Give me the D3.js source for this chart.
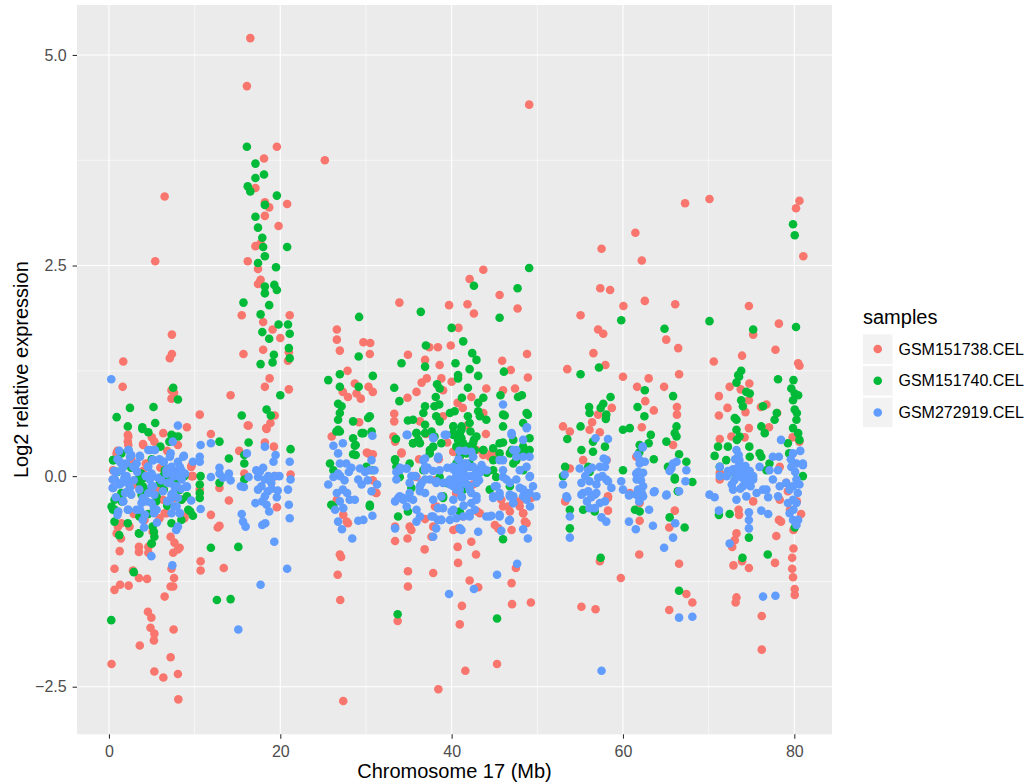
<!DOCTYPE html>
<html lang="en">
<head>
    <meta charset="UTF-8">
    <title>Log2 relative expression along chromosome 17</title>
    <script src="https://d3js.org/d3.v7.min.js"></script>
    <style>
        body { margin: 0; background: #fff; }
        svg text { font-family: "Liberation Sans", Arial, Helvetica, sans-serif; }
    </style>
</head>
<body>
<svg id="chart" width="1031" height="784"></svg>

<script>
    // sample names (legend order)
    const samples = ["GSM151738.CEL", "GSM151740.CEL", "GSM272919.CEL"];
    const sampleColors = ["#F8766D", "#00BA38", "#619CFF"];

    const xTicks = [0, 20, 40, 60, 80];
    const yTicks = [-2.5, 0, 2.5, 5];
    const xMinor = [10, 30, 50, 70];
    const yMinor = [-1.25, 1.25, 3.75];

    // [position in Mb, log2 relative expression]
    const gsm151738 = [
        [0.3,-2.23],[1.6,1.06],[1.67,1.36],[0.9,-0.68],[1.4,-0.74],[1.25,-0.89],[0.65,-1.10],[0.65,-1.35],[1.3,-1.29],[2.3,-1.30],
        [2.8,-1.12],[3.5,-0.84],[3.5,-0.90],[3.5,-1.21],[4.45,-1.22],[4.6,-0.84],[4.6,-0.91],[3.6,-2.01],[4.55,-1.61],[4.95,-1.68],
        [4.85,-1.80],[5.3,-1.87],[5.25,-1.95],[5.3,-2.32],[6.35,-2.39],[5.4,2.55],[6.5,3.32],[6.5,-1.43],[7.35,1.68],[7.35,1.45],
        [7.1,1.40],[7.3,1.02],[7.6,0.99],[7.3,0.92],[7.2,-0.72],[7.65,-0.79],[8.25,-0.85],[8.05,-0.87],[7.5,-0.91],[7.3,-1.10],
        [7.6,-1.21],[7.2,-1.31],[7.5,-1.31],[7.55,-1.82],[7.2,-2.15],[8.05,-2.35],[8.1,-2.65],[9.1,0.58],[2.2,0.49],[2.2,0.41],
        [3.97,0.38],[5.0,0.46],[5.3,0.41],[0.47,0.07],[0.47,-0.04],[1.8,-0.20],[1.05,-0.60],[2.4,-0.60],[1.45,-0.56],[3.95,0.06],
        [5.1,-0.16],[5.7,-0.14],[6.3,-0.28],[6.5,-0.44],[7.65,-0.26],[8.05,0.37],[8.8,-0.48],[8.45,-0.28],[4.15,-0.52],[5.1,-0.66],
        [9.6,0.11],[9.8,0.0],[10.6,-0.16],[8.8,-0.50],[2.6,0.2],[3.0,-0.1],[6.0,0.1],[6.8,0.3],[1.0,0.3],[4.3,0.15],
        [2.9,-0.45],[5.9,-0.5],[2.26,0.47],[2.26,0.37],[4.0,0.37],[0.89,0.27],[6.73,-0.44],[9.65,0.13],[9.65,0.0],[6.34,0.51],
        [10.6,0.73],[11.9,0.50],[11.9,-0.46],[12.9,-0.14],[14.0,-0.29],[12.7,-0.61],[12.9,-0.59],[10.7,-1.01],[10.7,-1.12],[13.4,-1.09],
        [14.2,0.96],
        [16.5,5.20],[16.1,4.63],[19.6,3.91],[18.1,3.77],[17.1,3.42],[18.2,3.25],[18.7,3.19],[20.8,3.23],[18.2,3.09],[19.8,2.97],
        [17.1,2.73],[17.7,2.76],[16.2,2.55],[17.4,2.46],[17.7,2.33],[17.4,2.28],[15.5,1.91],[21.1,1.91],[18.0,1.83],[19.1,1.74],
        [20.0,1.64],[18.0,1.50],[15.7,1.45],[21.0,1.47],[20.9,1.37],[18.75,1.16],[18.2,1.06],[21.0,1.03],[16.2,0.60],[18.35,0.57],
        [19.35,0.72],[18.85,0.63],[16.3,0.60],[18.4,0.56],[18.2,0.40],[19.25,0.35],[15.2,0.30],[15.8,0.03],[21.2,0.02],[19.4,0.0],
        [19.6,-0.37],
        [25.2,3.75],[43.7,2.45],[42.1,2.34],[45.6,2.15],[47.7,1.99],[33.9,2.06],[39.7,2.03],[41.85,2.04],[42.6,1.93],[40.8,1.76],
        [26.6,1.74],[26.6,1.62],[26.95,1.49],[29.7,1.59],[30.5,1.58],[30.45,1.45],[39.9,1.55],[37.4,1.53],[38.4,1.53],[34.9,1.44],
        [36.9,1.38],[38.6,1.32],[48.8,1.45],[45.9,1.37],[46.9,1.26],[48.9,1.17],[27.85,1.25],[28.7,1.10],[28.9,0.98],[37.1,1.16],
        [36.5,1.11],[38.8,1.16],[40.0,1.12],[30.3,1.06],[30.8,1.00],[27.3,1.00],[27.9,0.94],[29.4,0.92],[34.85,0.93],[35.9,1.00],
        [39.0,1.02],[42.3,0.94],[44.05,1.04],[46.0,1.02],[47.4,1.04],[40.7,0.87],[41.3,0.81],[33.3,0.74],[33.3,0.65],[39.0,0.71],
        [43.7,0.75],[29.2,0.64],[26.0,0.47],[33.2,0.47],[33.4,0.41],[34.15,0.28],[30.1,0.28],[30.8,0.26],[40.2,0.29],[41.15,0.31],
        [42.9,0.31],[43.7,0.25],[44.65,0.27],[45.8,-0.28],[46.0,-0.36],[35.9,-0.01],[38.0,-0.05],[30.8,-0.05],[31.2,-0.20],[26.6,-0.28],
        [49.3,-0.26],[47.95,-0.36],[49.05,4.41],
        [26.95,-0.93],[27.1,-0.96],[26.7,-1.17],[27.0,-1.47],[27.35,-2.67],[33.7,-1.72],[34.9,-1.13],[34.9,-1.31],[37.85,-1.15],[36.85,-0.87],
        [38.45,-2.53],[40.7,-0.84],[40.75,-1.03],[42.3,-0.78],[42.85,-0.93],[42.1,-1.24],[43.1,-1.32],[41.2,-1.54],[40.95,-1.76],[41.6,-2.31],
        [45.3,-2.23],[47.05,-1.52],[47.0,-1.27],[47.5,-1.09],[49.25,-1.50],[33.4,-0.77],[34.85,-0.74],[35.3,-0.64],[33.4,-0.60],[36.9,-0.51],
        [37.65,-0.72],[40.2,-0.64],[40.75,-0.62],[45.05,-0.58],[47.0,-0.64],[48.35,-0.44],[48.55,-0.54],[46.6,-0.36],[47.95,-0.30],[27.35,-0.46],
        [27.75,-0.54],[27.9,-0.56],[30.85,-0.18],[31.2,-0.20],[30.25,0.27],[30.65,0.25],[34.15,0.27],[35.5,0.0],[38.25,-0.36],[41.35,-0.48],
        [43.0,-0.42],[44.85,0.25],[37.0,0.5],[39.5,0.4],[41.8,0.6],[44.0,0.5],[38.5,0.2],[40.5,-0.2],[42.5,-0.1],[36.2,0.2],
        [36.3,0.65],[44.45,0.23],[40.2,0.29],[38.05,-0.36],[46.8,-0.42],[48.35,-0.44],[48.75,-0.56],[35.1,-0.60],[43.3,-0.44],[37.85,-0.60],
        [45.45,-0.62],
        [61.45,2.89],[62.2,2.56],[57.5,2.70],[57.35,2.23],[58.5,2.21],[60.05,2.02],[62.55,2.08],[66.1,2.04],[55.05,1.91],[57.1,1.74],
        [57.7,1.69],[65.05,1.62],[66.45,1.52],[56.55,1.46],[57.95,1.32],[53.5,1.27],[66.55,1.21],[60.0,1.18],[63.0,1.16],[61.65,1.06],
        [64.8,1.06],[62.6,0.89],[63.6,0.78],[66.3,0.82],[66.3,0.73],[58.7,0.81],[57.1,0.73],[56.4,0.64],[53.0,0.59],[53.8,0.53],
        [56.1,0.55],[57.3,0.52],[62.2,0.58],[55.35,0.19],[53.8,0.09],[58.1,0.19],[65.85,0.37],[61.55,0.23],[58.25,-0.24],[60.8,-0.20],
        [67.25,3.24],[53.25,-0.30],[58.25,-0.26],[58.25,-0.41],[57.3,-1.01],[59.75,-1.21],[55.15,-1.55],[56.8,-1.58],[61.9,-0.93],[61.95,-0.53],
        [66.05,-0.41],[65.4,-0.61],[66.55,-1.04],[67.4,-1.40],[68.1,-1.50],[65.4,-1.59],[61.95,-0.32],
        [70.1,3.29],[80.6,3.27],[80.2,3.18],[81.05,2.61],[74.7,2.02],[78.2,1.81],[75.2,1.68],[77.8,1.50],[73.9,1.43],[70.6,1.36],
        [80.45,1.34],[80.6,1.31],[71.2,0.95],[72.45,1.06],[73.75,1.03],[74.75,1.10],[72.2,0.81],[71.2,0.72],[74.3,0.76],[74.7,0.90],
        [76.75,0.85],[76.1,0.82],[77.05,0.58],[78.0,0.75],[71.3,0.44],[72.65,0.47],[74.2,0.46],[74.7,0.57],[79.8,0.46],[80.6,0.41],
        [78.3,0.11],[79.05,-0.08],[73.25,-0.68],[73.05,-0.76],[72.75,-0.84],[72.9,-1.06],[73.9,-1.01],[74.7,-1.09],[73.25,-1.44],[73.15,-1.50],
        [76.2,-1.66],[76.2,-2.06],[77.9,-0.71],[77.75,-1.03],[78.2,-0.52],[78.45,-0.54],[79.9,-0.64],[79.9,-0.86],[79.75,-0.97],[79.75,-1.10],
        [79.85,-1.20],[80.05,-1.34],[80.05,-1.41],[73.5,-0.40],[73.55,-0.46],[75.2,-0.30],[78.3,-0.28],[79.25,-0.18],[71.3,-0.04],[71.3,0.04],
        [80.3,-0.3],[80.8,-0.45],[79.5,-0.4]
    ];

    const gsm151740 = [
        [0.27,-1.71],[0.9,0.70],[2.45,0.81],[5.2,0.82],[7.5,1.05],[8.05,0.91],[5.4,0.63],[2.2,0.59],[3.9,0.58],[3.9,0.56],
        [4.6,0.52],[2.9,-1.14],[3.5,-0.68],[5.0,-0.80],[5.3,-0.72],[5.1,-0.60],[0.47,0.19],[1.45,0.27],[0.65,-0.28],[0.47,-0.40],
        [0.65,-0.54],[1.45,-0.20],[1.5,-0.30],[2.2,-0.56],[3.55,-0.02],[3.55,-0.48],[3.75,0.03],[3.95,-0.12],[5.25,-0.66],[4.95,-0.80],
        [6.3,0.0],[6.4,-0.16],[7.1,-0.04],[7.3,-0.56],[8.25,-0.16],[8.8,0.0],[9.1,-0.24],[8.45,-0.52],[7.65,0.05],[8.05,-0.04],
        [3.55,-0.68],[7.3,0.49],[7.65,0.47],[7.05,0.41],[4.15,-0.02],[4.15,-0.16],[10.7,0.0],[10.6,-0.10],[10.6,-0.20],[10.6,-0.26],
        [9.5,-0.42],[9.8,-0.47],[1.0,0.05],[2.6,0.1],[5.0,0.2],[6.0,0.35],[2.0,-0.05],[5.5,-0.3],[6.8,-0.35],[1.2,-0.7],
        [4.6,-0.45],[0.5,0.19],[0.31,-0.36],[0.7,-0.40],[1.48,-0.24],[3.62,0.0],[3.62,-0.08],[3.81,-0.22],[5.56,-0.24],[5.95,-0.08],
        [6.53,0.07],[8.09,0.47],[8.28,-0.16],[8.48,-0.28],[9.26,-0.40],
        [12.9,0.41],[14.0,0.21],[12.9,-0.08],[11.9,-0.85],[15.1,-0.84],[12.6,-1.47],[14.2,-1.46],[15.5,0.72],
        [16.1,3.91],[17.1,3.71],[18.1,3.58],[17.1,3.54],[16.2,3.44],[16.5,3.38],[19.6,3.33],[18.2,3.22],[17.1,3.08],[17.4,2.95],
        [17.9,2.83],[18.0,2.72],[20.8,2.72],[18.2,2.61],[17.4,2.53],[19.5,2.48],[18.2,2.25],[18.2,2.17],[19.3,2.27],[19.6,2.21],
        [15.7,2.06],[18.7,2.03],[17.7,1.92],[19.8,1.80],[20.9,1.80],[17.9,1.71],[21.1,1.69],[18.7,1.63],[21.0,1.52],[19.25,1.44],
        [21.1,1.40],[19.1,1.35],[17.7,1.33],[20.0,0.96],[18.4,0.79],[18.9,0.72],[16.3,0.40],[21.2,0.32],[15.8,0.25],[15.8,0.15],
        [15.8,-0.04],
        [49.05,2.47],[42.6,2.26],[47.7,2.23],[45.6,1.88],[36.4,1.95],[29.2,1.89],[40.0,1.76],[41.35,1.60],[37.0,1.55],[29.15,1.42],
        [34.15,1.34],[36.9,1.30],[42.4,1.46],[42.9,1.38],[40.45,1.34],[42.1,1.27],[46.1,1.24],[25.6,1.14],[26.95,1.21],[30.8,1.19],
        [40.75,1.20],[40.75,1.16],[43.1,1.19],[26.95,1.06],[29.15,1.06],[38.3,1.09],[38.6,1.04],[41.9,1.05],[33.3,1.05],[33.9,0.89],
        [38.15,0.94],[41.2,0.93],[43.7,0.93],[43.1,0.87],[45.7,0.96],[46.2,0.72],[47.75,0.94],[48.2,0.96],[26.75,0.86],[27.15,0.83],
        [26.95,0.75],[26.75,0.67],[26.55,0.53],[26.95,0.53],[30.45,0.71],[30.25,0.69],[28.5,0.65],[29.5,0.51],[29.7,0.51],[30.65,0.53],
        [34.9,0.66],[35.5,0.67],[36.7,0.75],[36.9,0.83],[36.9,0.61],[38.0,0.83],[38.55,0.85],[38.6,0.65],[38.2,0.71],[39.8,0.75],
        [40.35,0.77],[40.2,0.59],[41.15,0.59],[40.95,0.51],[41.9,0.71],[42.1,0.63],[43.1,0.77],[43.3,0.71],[44.05,0.67],[46.0,0.73],
        [46.0,0.59],[48.75,0.75],[48.9,0.73],[48.35,0.63],[49.1,0.45],[47.2,0.43],[47.0,0.31],[48.35,0.35],[46.0,0.40],[44.85,0.33],
        [43.7,0.31],[42.2,0.53],[42.6,0.43],[42.1,0.35],[42.7,0.31],[40.2,0.49],[41.15,0.45],[40.55,0.35],[41.35,0.39],[37.65,0.53],
        [38.0,0.47],[38.8,0.39],[37.45,0.31],[35.9,0.51],[36.1,0.43],[35.5,0.39],[33.5,0.44],[33.4,0.20],[28.5,0.45],[28.8,0.37],
        [28.5,0.26],[26.75,0.55],[25.8,0.15],[26.2,0.07],[30.05,0.11],[30.8,0.07],[33.55,0.11],[33.95,-0.01],[35.1,0.15],[36.7,0.07],
        [38.6,-0.01],[39.4,-0.08],[40.55,0.15],[41.35,0.07],[42.1,0.15],[42.9,0.07],[44.85,0.07],[45.2,-0.01],[47.2,0.15],[48.35,0.07],
        [48.75,0.27],[49.1,0.31],[39.0,-0.24],[41.35,-0.16],[30.45,-0.36],[26.2,-0.36],
        [33.7,-1.64],[45.3,-1.69],[46.0,-0.75],[25.95,-0.34],[30.45,-0.34],[33.75,-0.48],[34.9,-0.42],[35.3,-0.14],[33.4,0.19],[39.0,-0.26],
        [40.95,-0.42],[28.8,0.25],[28.7,0.36],
        [35.9,0.51],[36.9,0.51],[35.5,0.39],[36.3,0.39],[37.85,0.35],[37.45,0.27],[40.2,0.59],[41.15,0.55],[40.2,0.51],[40.75,0.43],
        [42.9,0.47],[42.5,0.39],[41.75,0.27],[40.95,0.23],[43.7,0.31],[44.85,0.19],[45.6,0.39],[46.8,0.27],[47.55,0.19],[45.6,0.27],
        [48.35,0.27],[44.1,0.04],[44.45,-0.16],[46.8,-0.12],
        [59.8,1.85],[64.85,1.75],[55.05,1.21],[57.2,1.29],[62.55,1.02],[65.85,0.95],[58.55,0.94],[56.05,0.82],[56.1,0.75],[57.4,0.81],
        [57.7,0.86],[58.05,0.73],[58.0,0.68],[61.7,0.82],[62.5,0.71],[55.05,0.59],[53.5,0.44],[60.0,0.55],[60.8,0.57],[66.25,0.59],
        [66.05,0.51],[66.25,0.47],[63.25,0.49],[63.0,0.39],[65.07,0.41],[55.15,0.31],[56.5,0.41],[56.5,0.29],[57.9,0.35],[61.95,0.37],
        [61.9,0.28],[63.6,0.20],[66.55,0.26],[67.4,0.17],[53.25,0.11],[53.0,0.0],[55.95,0.11],[56.1,0.05],[60.0,0.07],[65.25,0.11],
        [66.05,-0.02],[68.1,-0.07],[66.4,-0.18],[57.4,-0.97],[66.55,-1.36],[53.8,-0.40],[53.8,-0.62],[55.35,-0.40],[56.7,-0.42],[61.4,-0.40],
        [61.95,-0.42],[65.45,-0.49],[67.2,-0.61],[66.45,-0.18],[66.05,-0.04],
        [79.85,2.99],[80.05,2.86],[70.1,1.84],[75.2,1.74],[80.2,1.77],[78.1,1.15],[79.9,1.14],[73.8,1.25],[73.55,1.18],[73.25,1.11],
        [74.4,1.00],[74.8,0.98],[79.65,1.04],[80.05,0.98],[80.45,0.96],[73.45,1.20],[73.8,0.90],[74.0,0.83],[73.25,0.67],[73.05,0.69],
        [70.7,0.24],[71.1,0.35],[72.25,0.35],[73.25,0.55],[73.6,0.47],[73.3,0.43],[76.35,0.83],[76.15,0.59],[76.55,0.51],[77.7,0.67],
        [77.95,0.75],[75.95,0.27],[76.15,0.23],[77.1,0.15],[76.75,0.07],[79.85,0.90],[80.05,0.79],[80.25,0.67],[79.85,0.57],[80.45,0.51],
        [80.6,0.43],[80.3,0.75],[79.25,0.39],[79.4,0.27],[81.0,0.0],[74.75,0.35],[74.8,0.23],[71.3,0.11],[72.05,0.19],[72.45,0.04],
        [73.95,-0.97],[76.9,-0.93],[74.7,-0.73],[72.45,-0.45],[71.2,-0.46],[80.05,-0.61]
    ];

    const gsm272919 = [
        [0.27,1.15],[8.05,0.60],[2.3,0.31],[4.6,0.31],[5.3,0.31],[8.75,0.24],[7.2,0.27],[8.05,0.17],[3.6,0.24],[2.6,0.25],
        [1.45,0.15],[1.0,0.20],[0.6,0.06],[0.43,-0.04],[0.43,-0.14],[1.45,0.06],[1.8,-0.02],[1.25,-0.10],[2.2,-0.08],[2.6,-0.22],
        [2.2,-0.18],[1.65,-0.30],[2.2,-0.40],[1.0,-0.46],[3.55,-0.16],[3.95,-0.26],[3.8,-0.32],[5.3,-0.22],[5.25,-0.38],[5.25,-0.44],
        [3.95,-0.52],[4.1,-0.61],[4.55,0.11],[5.1,0.19],[4.75,-0.02],[5.7,-0.02],[4.95,-0.12],[6.4,0.17],[6.9,0.09],[7.3,0.04],
        [7.7,0.0],[8.05,0.05],[8.45,0.07],[6.9,-0.08],[7.65,-0.12],[7.3,-0.22],[8.05,-0.26],[7.65,-0.36],[8.25,-0.44],[8.05,-0.60],
        [7.85,-0.64],[6.3,-0.18],[6.7,0.07],[7.45,0.41],[4.95,-0.95],[7.4,-1.06],[1.2,0.3],[3.0,0.1],[2.9,-0.05],[3.3,0.05],
        [4.3,0.0],[5.9,0.2],[6.1,-0.05],[0.8,-0.25],[3.2,-0.4],[4.4,-0.3],[5.6,-0.55],[6.8,-0.3],[8.4,-0.15],[2.0,0.15],
        [2.26,0.31],[2.45,0.23],[1.28,0.17],[1.67,0.11],[0.89,0.05],[0.7,-0.04],[0.5,-0.14],[1.48,-0.08],[2.06,0.0],[2.45,-0.14],
        [1.87,-0.20],[1.67,-0.30],[1.09,-0.42],[2.26,-0.40],[2.84,0.11],[3.62,0.23],[3.23,0.15],[4.78,0.31],[5.17,0.19],[4.59,0.11],
        [4.98,0.03],[4.78,-0.04],[5.17,-0.12],[4.59,-0.20],[4.0,-0.28],[4.98,-0.32],[5.56,-0.40],[3.62,-0.40],[4.2,-0.46],[5.37,0.31],
        [6.34,0.17],[7.12,0.23],[7.31,0.11],[6.73,0.03],[7.51,0.0],[7.12,-0.08],[7.9,-0.12],[7.51,-0.20],[7.12,-0.28],[7.9,-0.36],
        [7.31,-0.44],[8.28,-0.44],[8.67,0.23],[8.28,0.11],[8.87,0.03],[8.48,-0.04],[9.06,-0.12],
        [9.8,0.17],[10.6,0.23],[10.6,0.17],[9.1,-0.13],[9.6,-0.29],[10.7,-0.39],[10.7,0.37],[11.9,0.39],[12.9,0.10],[12.9,0.03],
        [14.0,0.03],[14.2,-0.05],[13.3,-0.02],[11.9,-0.01],[17.2,0.07],[16.3,-0.01],[17.4,-0.01],[18.2,-0.04],[18.95,-0.08],[17.8,-0.12],
        [17.4,-0.16],[18.55,-0.18],[18.2,-0.24],[19.3,0.0],[19.9,0.0],[21.2,-0.04],[15.4,-0.12],[15.75,-0.13],[19.7,-0.17],[20.9,-0.16],
        [19.6,-0.25],[17.1,-0.32],[18.4,-0.34],[18.7,-0.42],[21.0,-0.34],[21.1,-0.50],[15.5,-0.45],[15.65,-0.54],[15.95,-0.60],[17.9,-0.58],
        [18.25,-0.56],[19.3,-0.78],[20.8,-1.10],[17.7,-1.29],[15.1,-1.82],[18.2,0.35],[16.1,0.27],[19.45,0.25],[19.2,0.17],[21.1,0.17],
        [17.6,0.05],[18.0,0.1],[18.6,0.0],[19.0,-0.15],[17.9,-0.3],[18.8,-0.05],
        [46.0,0.85],[48.8,0.58],[47.0,0.51],[48.35,0.43],[30.75,0.48],[34.85,0.49],[37.85,0.46],[39.2,0.49],[26.2,0.36],[27.3,0.39],
        [47.55,0.31],[48.35,0.23],[26.75,0.27],[26.95,0.15],[26.75,0.03],[26.2,-0.01],[25.6,-0.10],[27.7,0.15],[29.3,0.09],[29.9,0.05],
        [29.1,-0.04],[30.45,0.07],[31.0,0.07],[30.65,0.19],[27.3,-0.16],[28.1,-0.28],[28.7,-0.28],[26.95,-0.30],[33.55,0.05],[33.55,-0.04],
        [34.7,0.09],[35.1,-0.08],[33.95,-0.24],[34.35,-0.28],[36.7,0.19],[36.9,0.07],[37.45,-0.04],[36.5,-0.08],[38.2,-0.08],[38.6,0.07],
        [38.4,0.21],[40.2,0.11],[40.55,0.04],[41.35,0.07],[40.95,-0.08],[41.7,-0.01],[42.1,0.11],[42.5,0.23],[42.9,0.07],[43.7,0.09],
        [40.55,-0.16],[42.1,-0.16],[42.9,-0.24],[40.2,-0.28],[45.05,-0.12],[44.85,-0.24],[46.0,-0.01],[46.8,-0.08],[46.0,0.19],[47.2,-0.24],
        [47.95,-0.14],[48.75,-0.20],[49.1,-0.01],[49.1,0.23],
        [27.0,0.0],[27.5,-0.05],[28.3,0.1],[29.5,-0.1],[30.2,-0.05],[27.8,-0.2],
        [26.6,-0.20],[26.4,-0.40],[27.35,-0.38],[26.75,-0.54],[27.2,-0.63],[28.4,-0.74],[29.1,-0.53],[29.7,-0.52],[30.75,-0.47],[30.65,-0.18],
        [33.4,-0.30],[33.75,-0.26],[33.4,-0.62],[35.9,-0.40],[35.9,-0.54],[35.1,-0.26],[36.3,-0.18],[36.9,-0.20],[37.65,-0.48],[38.4,-0.52],
        [38.2,-0.62],[37.85,-0.72],[38.4,-0.38],[38.8,-0.52],[40.0,-0.42],[40.55,-0.50],[40.95,-0.62],[41.15,-0.64],[42.1,-0.48],[42.7,-0.40],
        [42.3,-0.32],[43.1,-0.66],[44.05,-0.48],[44.65,-0.47],[45.6,-0.46],[46.7,-0.53],[45.8,-0.65],[48.35,-0.63],[48.9,-0.74],[44.85,-0.26],
        [45.6,-0.20],[46.8,-0.22],[47.2,-0.32],[48.35,-0.24],[49.1,-0.20],[47.65,-1.04],[45.3,-1.17],[39.7,-1.40],[42.6,-1.34],
        [40.8,0.2],[41.0,0.0],[41.5,0.15],[41.8,-0.1],[41.2,-0.25],[40.4,-0.05],[42.3,0.0],[41.6,0.3],[40.9,0.3],[39.8,-0.1],
        [43.2,-0.05],[39.5,0.1],[41.4,-0.35],[37.2,0.1],[35.8,0.0],[34.0,0.1],[31.3,-0.1],[28.0,0.05],
        [34.75,0.49],[37.85,0.45],[39.4,0.49],[47.0,0.49],[48.75,0.57],[36.9,0.21],[38.45,0.23],[36.9,0.11],[37.85,0.06],[38.25,-0.06],
        [36.9,-0.04],[36.3,-0.12],[35.1,-0.20],[34.35,-0.26],[34.75,0.09],[35.3,0.0],[39.0,-0.08],[38.8,-0.24],[37.85,-0.28],[39.0,-0.38],
        [40.2,0.08],[40.95,0.11],[41.75,0.15],[42.5,0.11],[43.3,0.04],[42.9,-0.08],[42.1,-0.12],[40.95,-0.16],[40.2,-0.12],[40.55,0.0],
        [41.75,0.0],[42.9,0.0],[39.8,-0.04],[41.35,-0.08],[42.3,-0.20],[41.15,-0.24],[43.5,0.13],[44.1,0.07],[42.5,0.23],[42.3,0.29],
        [40.2,-0.40],[39.8,-0.52],[41.35,-0.48],[42.1,-0.44],[42.9,-0.28],[38.8,-0.52],[37.85,-0.48],[44.45,-0.48],[45.6,-0.48],[46.8,-0.52],
        [45.6,0.19],[46.0,0.07],[46.4,-0.04],[45.25,-0.12],[45.6,-0.24],[46.8,-0.24],[47.2,-0.32],[47.95,0.07],[47.55,-0.04],[48.75,0.11],
        [49.15,0.0],[49.5,-0.12],[48.35,-0.16],[48.75,-0.28],[49.9,-0.24],[49.15,-0.36],[47.2,0.31],[47.55,0.23],[33.96,0.07],[34.75,-0.36],
        [35.5,-0.28],[36.3,-0.48],
        [56.8,0.45],[58.25,0.44],[57.75,0.21],[62.3,0.35],[61.95,0.19],[62.55,0.17],[66.25,0.17],[65.65,0.09],[65.45,0.06],[67.4,0.07],
        [67.3,-0.06],[54.95,0.09],[55.95,0.07],[57.3,0.11],[57.9,0.11],[53.2,0.02],[53.0,-0.10],[55.15,-0.08],[56.1,-0.06],[57.1,-0.02],
        [58.05,-0.04],[53.4,-0.24],[55.35,-0.20],[56.7,-0.22],[59.8,-0.06],[60.8,-0.22],[61.55,0.03],[62.35,-0.12],[62.35,-0.24],[61.55,-0.22],
        [63.7,-0.18],[65.1,-0.22],[66.55,-0.18],[53.5,-0.26],[53.8,-0.48],[53.8,-0.73],[58.05,0.19],[58.25,-0.06],[58.65,-0.14],[55.15,-0.22],
        [55.95,-0.18],[56.9,-0.20],[57.9,-0.30],[56.1,-0.38],[57.3,-0.32],[56.7,-0.38],[57.5,-0.49],[58.05,-0.54],[57.5,-2.31],[60.0,-0.16],
        [60.7,-0.23],[60.7,-0.54],[61.5,-0.63],[61.6,-0.04],[61.75,-0.16],[61.95,-0.26],[62.35,0.04],[61.95,0.15],[62.3,0.34],[61.9,-0.30],
        [63.05,-0.40],[63.6,-0.19],[63.5,-0.59],[65.05,-0.23],[64.8,-0.85],[65.85,-0.73],[66.1,-0.56],[66.55,-1.68],[68.1,-1.67],[65.85,0.15],
        [55.6,0.0],[56.4,0.1],[56.9,-0.1],[57.6,0.0],[55.8,-0.3],[56.3,-0.25],[61.8,0.05],[62.1,-0.05],[61.7,0.25],[62.2,-0.2],
        [70.1,-0.22],[70.7,-0.25],[78.45,0.43],[78.2,0.23],[78.1,0.07],[79.85,0.27],[80.25,0.15],[81.0,0.13],[79.65,0.11],[71.3,0.11],
        [71.3,0.0],[72.25,0.06],[73.25,0.31],[73.6,0.19],[73.85,0.07],[73.25,0.0],[74.4,0.04],[75.2,-0.04],[74.0,-0.12],[72.85,-0.16],
        [75.95,0.11],[77.1,0.07],[77.5,-0.04],[78.3,-0.12],[76.75,-0.16],[75.6,-0.20],[74.4,-0.24],[71.2,-0.41],[72.45,-0.80],[74.7,-0.43],
        [74.7,-0.52],[74.7,-0.62],[76.15,-0.41],[76.95,-0.45],[76.35,-1.43],[77.8,-1.42],[72.1,0.0],[72.85,0.08],[73.6,0.15],[74.6,-0.04],
        [73.25,-0.28],[75.2,0.0],[76.35,-0.16],[78.1,-0.24],[76.95,-0.25],[77.5,0.23],[79.25,-0.32],[79.85,-0.28],[80.25,-0.32],[79.85,-0.52],
        [80.45,-0.52],[80.25,-0.58],[79.45,-0.44],[81.0,0.15],[80.25,-0.04],[79.85,-0.12],[79.45,-0.16],[79.05,-0.08],
        [72.5,0.05],[73.0,-0.05],[73.4,0.1],[73.9,-0.02],[74.3,0.12],[74.8,0.06],[73.7,-0.15],[74.2,-0.1],[72.7,-0.1],[73.1,0.2],
        [74.9,-0.12],[73.5,0.25],[79.6,0.2],[80.1,0.05],[80.6,-0.1],[79.9,-0.4],[80.4,-0.2],[80.7,0.3]
    ];

    const series = [gsm151738, gsm151740, gsm272919];

    const svg = d3.select("#chart");
    const panel = { left: 77, right: 832, top: 5, bottom: 734.3 };

    const x = d3.scaleLinear().domain([-3.73, 84.4]).range([panel.left, panel.right]);
    const y = d3.scaleLinear().domain([-3.065, 5.593]).range([panel.bottom, panel.top]);

    // panel background
    svg.append("rect")
        .attr("x", panel.left).attr("y", panel.top)
        .attr("width", panel.right - panel.left).attr("height", panel.bottom - panel.top)
        .attr("fill", "#EBEBEB");

    const grid = svg.append("g").attr("stroke", "#fff");
    // minor grid
    grid.selectAll(".xminor").data(xMinor).enter().append("line")
        .attr("x1", d => x(d)).attr("x2", d => x(d))
        .attr("y1", panel.top).attr("y2", panel.bottom)
        .attr("stroke-width", 0.55);
    grid.selectAll(".yminor").data(yMinor).enter().append("line")
        .attr("y1", d => y(d)).attr("y2", d => y(d))
        .attr("x1", panel.left).attr("x2", panel.right)
        .attr("stroke-width", 0.55);
    // major grid
    grid.selectAll(".xmajor").data(xTicks).enter().append("line")
        .attr("x1", d => x(d)).attr("x2", d => x(d))
        .attr("y1", panel.top).attr("y2", panel.bottom)
        .attr("stroke-width", 1.1);
    grid.selectAll(".ymajor").data(yTicks).enter().append("line")
        .attr("y1", d => y(d)).attr("y2", d => y(d))
        .attr("x1", panel.left).attr("x2", panel.right)
        .attr("stroke-width", 1.1);

    // points, one layer per sample
    series.forEach((pts, i) => {
        svg.append("g")
            .selectAll("circle")
            .data(pts)
            .enter()
            .append("circle")
            .attr("cx", d => x(d[0]))
            .attr("cy", d => y(d[1]))
            .attr("r", 4.3)
            .attr("fill", sampleColors[i]);
    });

    // axes
    const fmt = d3.format(".1f");
    const xAxis = svg.append("g")
        .attr("transform", `translate(0,${panel.bottom})`)
        .call(d3.axisBottom(x).tickValues(xTicks).tickSize(4.4).tickPadding(6.9));
    const yAxis = svg.append("g")
        .attr("transform", `translate(${panel.left},0)`)
        .call(d3.axisLeft(y).tickValues(yTicks).tickFormat(fmt).tickSize(4.4).tickPadding(5.9));

    [xAxis, yAxis].forEach(a => {
        a.select(".domain").remove();
        a.selectAll(".tick line").attr("stroke", "#333333").attr("stroke-width", 1.1);
        a.selectAll(".tick text")
            .attr("fill", "#4D4D4D")
            .style("font-size", "16px")
            .style("font-family", "'Liberation Sans', Arial, sans-serif");
    });

    // axis titles
    svg.append("text")
        .attr("x", (panel.left + panel.right) / 2)
        .attr("y", 778)
        .attr("text-anchor", "middle")
        .style("font-size", "20px")
        .text("Chromosome 17 (Mb)");

    svg.append("text")
        .attr("transform", `translate(27.5,${(panel.top + panel.bottom) / 2}) rotate(-90)`)
        .attr("text-anchor", "middle")
        .style("font-size", "20px")
        .text("Log2 relative expression");

    // legend
    const legend = svg.append("g");
    legend.append("text")
        .attr("x", 863).attr("y", 324)
        .style("font-size", "20px")
        .text("samples");

    const keys = legend.selectAll(".key")
        .data(samples)
        .enter()
        .append("g")
        .attr("transform", (d, i) => `translate(863,${334.3 + i * 31.7})`);

    keys.append("rect")
        .attr("width", 29.5).attr("height", 29.5)
        .attr("fill", "#F2F2F2");
    keys.append("circle")
        .attr("cx", 14.75).attr("cy", 14.75).attr("r", 4.3)
        .attr("fill", (d, i) => sampleColors[i]);
    keys.append("text")
        .attr("x", 35.5).attr("y", 14.75)
        .attr("dy", "0.35em")
        .style("font-size", "16px")
        .text(d => d);
</script>

</body>
</html>
